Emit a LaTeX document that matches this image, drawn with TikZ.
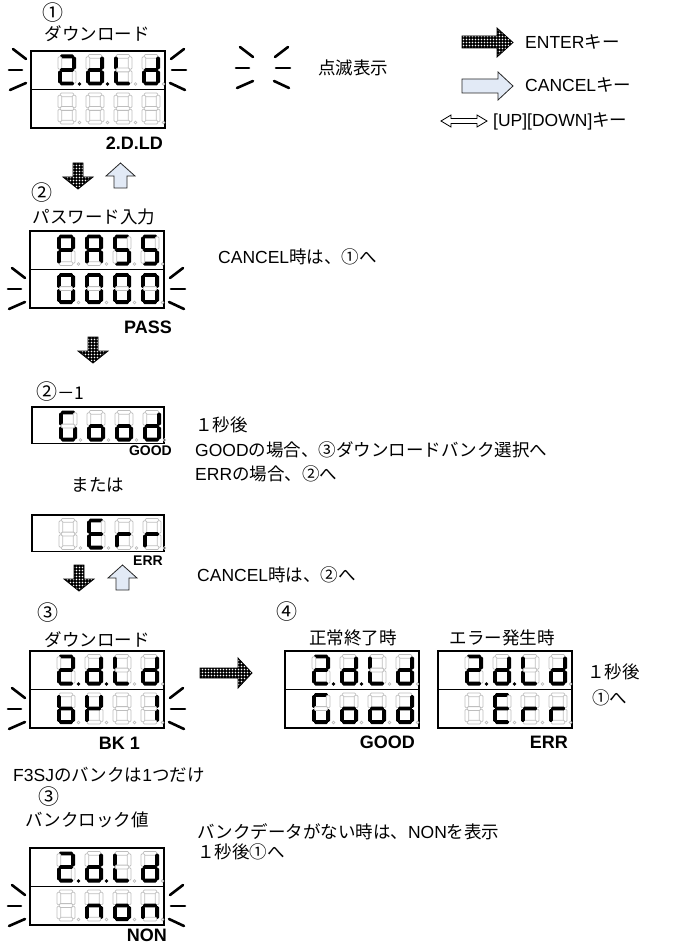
\documentclass[tikz,border=0pt]{standalone}
\usepackage{fontspec}
\setmainfont{Liberation Sans}
\newfontfamily\jp{Noto Sans CJK JP}
\newfontfamily\lat{Liberation Sans}
\usetikzlibrary{patterns.meta}
\tikzdeclarepattern{
  name=wdots,
  type=uncolored,
  bottom left={(-.1pt,-.1pt)},
  top right={(3.1pt,3.1pt)},
  tile size={(3pt,3pt)},
  code={\fill (1.5pt,1.5pt) circle (0.95pt);}
}
\definecolor{canfill}{RGB}{226,234,246}
\definecolor{segoffc}{RGB}{190,190,190}
\tikzset{
 segon/.style={fill=black, rounded corners=1.2pt},
 segoff/.style={draw=segoffc, line width=0.8pt, fill=white, rounded corners=1.2pt},
 box/.style={draw=black, line width=1.3pt},
 blink/.style={line width=2.6pt, line cap=round},
 enter/.style={preaction={fill=black}, pattern=wdots, pattern color=white, draw=black, line width=0.8pt},
 cancel/.style={fill=canfill, draw=black!85, line width=0.8pt},
 updown/.style={fill=white, draw=black, line width=0.8pt},
 txt/.style={font=\jp\fontsize{17.5}{20}\selectfont, inner sep=0pt},
 num/.style={font=\jp\fontsize{21}{22}\selectfont, inner sep=0pt},
 lab/.style={font=\lat\bfseries\fontsize{18}{20}\selectfont, inner sep=0pt},
 slab/.style={font=\lat\bfseries\fontsize{14}{16}\selectfont, inner sep=0pt},
}
\newcommand\sgm[2]{\ifnum#1=1\relax\fill[segon] #2;\else\path[segoff] #2;\fi}
\def\dgdraw#1#2#3#4#5#6#7#8{%
\sgm{#1}{(2.2,0) rectangle (15.8,3.8)}%
\sgm{#2}{(14.2,2.2) rectangle (18,14.8)}%
\sgm{#3}{(14.2,16.2) rectangle (18,28.8)}%
\sgm{#4}{(2.2,27.2) rectangle (15.8,31)}%
\sgm{#5}{(0,16.2) rectangle (3.8,28.8)}%
\sgm{#6}{(0,2.2) rectangle (3.8,14.8)}%
\sgm{#7}{(2.2,13.6) rectangle (15.8,17.4)}%
\ifnum#8=1\relax\fill (21.5,29.5) circle (1.8pt);\else\draw[draw=segoffc,line width=0.8pt] (21.5,29.5) circle (1.4pt);\fi}
\newcommand\sevdig[2]{\begin{scope}[shift={#1}]\dgdraw#2\end{scope}}
\newcommand\digrow[6]{\sevdig{(#1+27,#2+3.5)}{#3}\sevdig{(#1+55,#2+3.5)}{#4}\sevdig{(#1+83,#2+3.5)}{#5}\sevdig{(#1+111,#2+3.5)}{#6}}
\newcommand\dbox[2]{\draw[box] (#1,#2) rectangle ++(134,77); \draw[box] (#1,#2+38.5) -- ++(134,0);}
\newcommand\onebox[2]{\draw[box] (#1,#2) rectangle ++(132,36.5);}
\newcommand\blinkL[2]{\draw[blink] (#1-18,#2-21) -- (#1-5,#2-11); \draw[blink] (#1-22,#2) -- (#1-9,#2); \draw[blink] (#1-21,#2+20) -- (#1-5,#2+13);}
\newcommand\blinkR[2]{\draw[blink] (#1+6,#2-11) -- (#1+19,#2-21); \draw[blink] (#1+7,#2) -- (#1+21,#2); \draw[blink] (#1+5,#2+13) -- (#1+20,#2+20);}
\newcommand\downE[2]{\path[enter] (#1-5,#2) -- (#1+5,#2) -- (#1+5,#2+14) -- (#1+15,#2+14) -- (#1,#2+26) -- (#1-15,#2+14) -- (#1-5,#2+14) -- cycle;}
\newcommand\upC[2]{\path[cancel] (#1,#2) -- (#1+14.5,#2+13) -- (#1+6.5,#2+13) -- (#1+6.5,#2+25) -- (#1-6.5,#2+25) -- (#1-6.5,#2+13) -- (#1-14.5,#2+13) -- cycle;}
\begin{document}
\begin{tikzpicture}[x=1pt,y=-1pt]
\useasboundingbox (0,0) rectangle (683,944);
% ---------- legend
\blinkL{258}{68}
\blinkR{269}{68}
\node[txt,anchor=west] (lblink) at (318,68) {点滅表示};
\path[enter] (462,36) -- (497,36) -- (497,28) -- (513,42.5) -- (497,57) -- (497,48) -- (462,48) -- cycle;
\node[txt,anchor=west] (lenter) at (525,42) {{\lat ENTER}キー};
\path[cancel] (462,79) -- (498,79) -- (498,72) -- (513,86) -- (498,100) -- (498,93) -- (462,93) -- cycle;
\node[txt,anchor=west] (lcancel) at (525,85) {{\lat CANCEL}キー};
\path[updown] (441,121) -- (451,115) -- (451,118.5) -- (477,118.5) -- (477,115) -- (487,121) -- (477,127) -- (477,123.5) -- (451,123.5) -- (451,127) -- cycle;
\node[txt,anchor=west] (lupdown) at (493,121) {{\lat [UP][DOWN]}キー};
% ---------- display 1
\node[num] (n1) at (53,13) {①};
\node[txt] (d1t) at (97,34) {ダウンロード};
\dbox{31}{51}
\digrow{31}{51}{11011011}{01111011}{00011100}{01111010}
\digrow{31}{89.5}{00000000}{00000000}{00000000}{00000000}
\blinkL{31}{70}
\blinkR{165}{70}
\node[lab,anchor=east] (d1l) at (163,143) {2.D.LD};
\downE{78}{163}
\upC{120.5}{163}
% ---------- display 2
\node[num] (n2) at (42,193) {②};
\node[txt] (d2t) at (94,217) {パスワード入力};
\dbox{30}{231}
\digrow{30}{231}{11001110}{11101110}{10110110}{10110110}
\digrow{30}{269.5}{11111100}{11111100}{11111100}{11111100}
\blinkL{30}{289}
\blinkR{164}{289}
\node[txt,anchor=west] (c1) at (218,257) {{\lat CANCEL}時は、①へ};
\node[lab,anchor=east] (d2l) at (172,327) {PASS};
\downE{93}{337}
% ---------- 2-1
\node[txt,anchor=west] (n21) at (36,392) {{\fontsize{21}{22}\selectfont ②}－1};
\onebox{32}{407}
\digrow{32}{407}{10111100}{00111010}{00111010}{01111010}
\node[slab,anchor=east] (gl) at (172,451) {GOOD};
\node[txt,anchor=west] (r1) at (195,425) {１秒後};
\node[txt,anchor=west] (r2) at (195,450) {{\lat GOOD}の場合、③ダウンロードバンク選択へ};
\node[txt,anchor=west] (r3) at (195,474) {{\lat ERR}の場合、②へ};
\node[txt] (mata) at (98,485) {または};
\onebox{32}{515}
\digrow{32}{515}{00000000}{10011110}{00001010}{00001010}
\node[slab,anchor=east] (el) at (163,561) {ERR};
\downE{79}{565}
\upC{122.5}{565}
\node[txt,anchor=west] (c2) at (197,575) {{\lat CANCEL}時は、②へ};
% ---------- display 3
\node[num] (n3) at (48,613) {③};
\node[txt] (d3t) at (97,640) {ダウンロード};
\dbox{30}{651}
\digrow{30}{651}{11011011}{01111011}{00011100}{01111010}
\digrow{30}{689.5}{00111110}{01001110}{00000000}{01100000}
\blinkL{30}{709}
\blinkR{164}{709}
\node[lab,anchor=east] (d3l) at (140,743) {BK 1};
\path[enter] (200,668) -- (238,668) -- (238,658) -- (252,673) -- (238,688) -- (238,678) -- (200,678) -- cycle;
% ---------- display 4
\node[num] (n4) at (287,612) {④};
\node[txt] (d4t) at (353,638) {正常終了時};
\node[txt] (d5t) at (502,638) {エラー発生時};
\dbox{285}{651}
\digrow{285}{651}{11011011}{01111011}{00011100}{01111010}
\digrow{285}{689.5}{10111100}{00111010}{00111010}{01111010}
\node[lab,anchor=east] (d4l) at (415,742) {GOOD};
\dbox{438}{651}
\digrow{438}{651}{11011011}{01111011}{00011100}{01111010}
\digrow{438}{689.5}{00000000}{10011110}{00001010}{00001010}
\node[lab,anchor=east] (d5l) at (568,742) {ERR};
\node[txt,anchor=west] (r4) at (587,672) {１秒後};
\node[txt,anchor=west] (r5) at (592,698) {①へ};
% ---------- bank lock
\node[txt,anchor=west] (f3) at (13,775) {{\lat F3SJ}のバンクは{\lat 1}つだけ};
\node[num] (n5) at (49,797) {③};
\node[txt] (d6t) at (87,820) {バンクロック値};
\dbox{30}{848}
\digrow{30}{848}{11011011}{01111011}{00011100}{01111010}
\digrow{30}{886.5}{00000000}{00101010}{00111010}{00101010}
\blinkL{30}{906}
\blinkR{164}{906}
\node[lab,anchor=east] (d6l) at (167,935) {NON};
\node[txt,anchor=west] (r6) at (197,832) {バンクデータがない時は、{\lat NON}を表示};
\node[txt,anchor=west] (r7) at (197,852) {１秒後①へ};
\end{tikzpicture}
\end{document}
